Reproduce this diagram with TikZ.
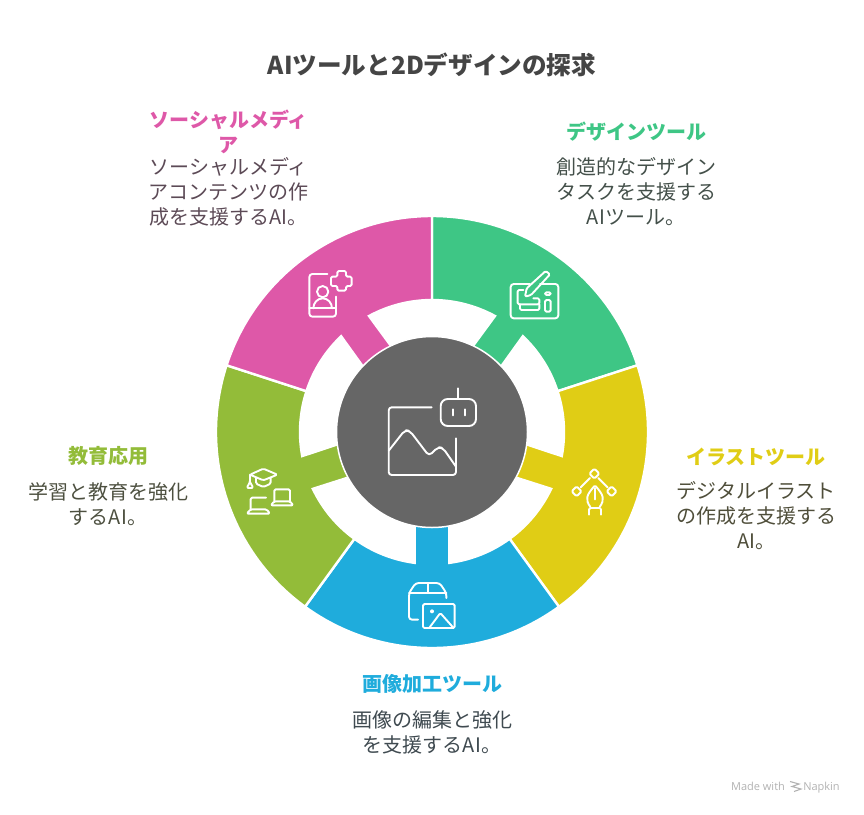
\documentclass[tikz,border=0pt]{standalone}
\usepackage{fontspec}
\setmainfont{Noto Sans CJK JP}
\newfontfamily\napkinfont{Open Sans}
\definecolor{segmagenta}{HTML}{DE58A8}
\definecolor{seggreen}{HTML}{3EC685}
\definecolor{segyellow}{HTML}{E0CD15}
\definecolor{segblue}{HTML}{1FACDC}
\definecolor{segolive}{HTML}{93BC39}
\definecolor{hubgrey}{HTML}{666666}
\definecolor{txtmagenta}{HTML}{5C4A56}
\definecolor{txtgreen}{HTML}{44504A}
\definecolor{txtyellow}{HTML}{4F4E3A}
\definecolor{txtblue}{HTML}{3F4A50}
\definecolor{txtolive}{HTML}{4D5040}
\tikzset{
  headlabel/.style={inner sep=0pt, align=center, font=\fontsize{20}{25}\selectfont\bfseries},
  bodylabel/.style={inner sep=0pt, align=center, font=\fontsize{20}{25}\selectfont},
  signlabel/.style={inner sep=0pt, anchor=base, text=black!30, font=\napkinfont\fontsize{11}{13}\selectfont},
  iconline/.style={draw=white, line width=1.9pt, line cap=round, line join=round, rounded corners=1.4pt},
  iconbox/.style={shift={#1}, scale=1/3}
}
\begin{document}
\begin{tikzpicture}[x=1pt, y=1pt, yscale=-1]
\useasboundingbox (0,0) rectangle (864,814);

% --- Titolo ---
\node[inner sep=0pt, font=\fontsize{24.6}{28}\selectfont\bfseries, text=black!73] (title) at (432,65) {AIツールと2Dデザインの探求};

% --- Segmenti ---
\foreach \ang/\col in {-54/seggreen, 18/segyellow, 90/segblue, 162/segolive, 234/segmagenta} {
    \begin{scope}[shift={(432,432)}, rotate=\ang]
        \draw[white, line width=2.4pt, fill=\col] (-36:216) arc [start angle=-36, end angle=36, radius=216]
            -- (36:132) arc [start angle=36, end angle=7.5, radius=132]
            -- (80,17.5) -- (80,-17.5)
            -- (-7.5:132) arc [start angle=-7.5, end angle=-36, radius=132] -- cycle;
    \end{scope}
}

% --- Cerchio centrale ---
\node[circle, fill=hubgrey, draw=white, line width=1.5pt, minimum size=191pt, inner sep=0pt] (hub) at (432,432) {};

% Icona centrale
\draw[iconline, rounded corners=3pt] (431.7,407.3) -- (388.7,407.3) -- (388.7,475) -- (456,475) -- (456,438.3);
\draw[iconline, rounded corners=4pt] (388.7,450.7) -- (405,430) -- (410,431) -- (429,456) -- (438,447) -- (443,448) -- (456,466.7);
\draw[iconline, rounded corners=7pt] (440.7,399) rectangle (476,426);
\draw[iconline] (458.3,388.3) -- (458.3,399);
\draw[iconline] (452.7,409.3) -- (452.7,415.3);
\draw[iconline] (464.7,409.3) -- (464.7,415.3);

% --- Icona social ---
\begin{scope}[iconbox={(210,210)}]
    \draw[iconline, rounded corners=3pt] (352,192) -- (298,192) -- (298,320) -- (378,320) -- (378,260);
    \draw[iconline] (298,295) -- (378,295);
    \draw[iconline] (338,245) circle (17);
    \draw[iconline] (310,295) arc [start angle=180, end angle=360, x radius=28, y radius=30];
    \draw[iconline] (382,183) -- (408,183) -- (408,200) -- (425,200) -- (425,228) -- (408,228) -- (408,242) -- (382,242) -- (382,228) -- (363,228) -- (363,200) -- (382,200) -- cycle;
\end{scope}

% --- Icona design ---
\begin{scope}[iconbox={(505,265)}]
    \draw[iconline, rounded corners=3pt] (75,57) -- (17,57) -- (17,160) -- (160,160) -- (160,57) -- (105,57);
    \draw[iconline] (60,95) -- (65,70) -- (122,18) -- (135,28) -- (78,90) -- cycle;
    \draw[iconline] (55,75) -- (38,75) -- (38,118) -- (103,118) -- (103,100) -- (85,100);
    \draw[iconline] (45,118) -- (45,135) -- (103,135) -- (103,118);
    \draw[iconline] (120,82) rectangle (137,90);
    \draw[iconline] (120,105) rectangle (137,140);
\end{scope}

% --- Icona illustrazione ---
\begin{scope}[iconbox={(565,462)}]
    \foreach \cx/\cy in {88/35, 35/88, 140/88} {
        \draw[iconline] (\cx-15,\cy) -- (\cx,\cy-15) -- (\cx+15,\cy) -- (\cx,\cy+15) -- cycle;
    }
    \draw[iconline] (75,48) -- (47,76);
    \draw[iconline] (100,48) -- (128,76);
    \draw[iconline] (76,135) .. controls (60,112) and (64,100) .. (90,70) .. controls (116,100) and (120,112) .. (104,135);
    \draw[iconline] (90,78) -- (90,112);
    \draw[iconline] (72,158) -- (72,138) -- (108,138) -- (108,158);
\end{scope}

% --- Icona immagini ---
\begin{scope}[iconbox={(403,578)}]
    \draw[iconline, rounded corners=3pt] (45,125) -- (18,125) -- (18,45) -- (38,15) -- (110,15) -- (130,45) -- (130,60);
    \draw[iconline] (18,45) -- (130,45);
    \draw[iconline] (75,15) -- (75,45);
    \draw[iconline] (60,78) rectangle (155,150);
    \fill[white] (87,100) circle (6);
    \draw[iconline] (80,148) -- (112,105) -- (150,148);
\end{scope}

% --- Icona istruzione ---
\begin{scope}[iconbox={(240,462)}]
    \draw[iconline] (30,38) -- (70,20) -- (112,38) -- (70,55) -- cycle;
    \draw[iconline] (48,47) -- (48,65) -- (70,75) -- (92,65) -- (92,47);
    \draw[iconline] (30,38) -- (30,60) -- (20,78) -- (40,78) -- (30,60);
    \draw[iconline] (103,118) -- (103,82) -- (150,82) -- (150,118);
    \draw[iconline] (103,118) -- (92,130) -- (160,130) -- (150,118) -- cycle;
    \draw[iconline] (32,142) -- (32,107) -- (78,107);
    \draw[iconline] (32,142) -- (20,155) -- (90,155) -- (80,142) -- cycle;
\end{scope}

% --- Etichette ---
\node[headlabel, text=segmagenta] (socialhead) at (228.5,132) {ソーシャルメディ\\ア};
\node[bodylabel, text=txtmagenta] (socialbody) at (228.5,192) {ソーシャルメディ\\アコンテンツの作\\成を支援するAI。};

\node[headlabel, text=seggreen] (designhead) at (636,132) {デザインツール};
\node[bodylabel, text=txtgreen] (designbody) at (636,192) {創造的なデザイン\\タスクを支援する\\AIツール。};

\node[headlabel, text=segyellow] (illusthead) at (756,456.5) {イラストツール};
\node[bodylabel, text=txtyellow] (illustbody) at (756,516) {デジタルイラスト\\の作成を支援する\\AI。};

\node[headlabel, text=segblue] (imagehead) at (432,684) {画像加工ツール};
\node[bodylabel, text=txtblue] (imagebody) at (432,732.5) {画像の編集と強化\\を支援するAI。};

\node[headlabel, text=segolive] (eduhead) at (108,456) {教育応用};
\node[bodylabel, text=txtolive] (edubody) at (108,504) {学習と教育を強化\\するAI。};

% --- Firma ---
\node[signlabel] (madewith) at (758,790) {Made with};
\node[signlabel] (napkin) at (821.5,790) {Napkin};
\draw[black!30, line width=1.1pt] (790,781.5) -- (799,784) -- (792,786.5) -- (801,789) -- (794,791.5);

\end{tikzpicture}
\end{document}
